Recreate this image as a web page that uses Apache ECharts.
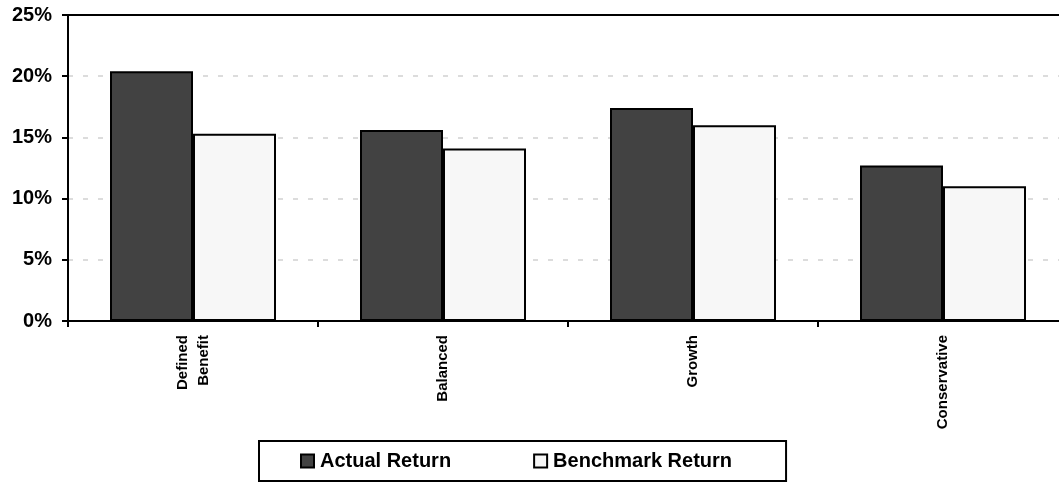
<!DOCTYPE html>
<html>
<head>
<meta charset="utf-8">
<script src="https://cdn.jsdelivr.net/npm/echarts@6/dist/echarts.min.js"></script>
<style>
  html, body { margin: 0; padding: 0; background: #fff; overflow: hidden; }
  /* the plot runs slightly past the right edge of the view */
  #chart { width: 1068px; height: 482px; }
</style>
</head>
<body>
<div id="chart"></div>
<script>
// Fund returns versus benchmark (%)
const categories = ['Defined\nBenefit', 'Balanced', 'Growth', 'Conservative'];
const actualReturn = [20.4, 15.6, 17.4, 12.7];
const benchmarkReturn = [15.3, 14.1, 16.0, 11.0];
const seriesNames = ['Actual Return', 'Benchmark Return'];

const FONT = '"Liberation Sans", Arial, Helvetica, sans-serif';

const chart = echarts.init(document.getElementById('chart'), null, { renderer: 'canvas' });

chart.setOption({
  animation: false,
  backgroundColor: '#ffffff',
  grid: { left: 68, right: 0, top: 15, bottom: 161, show: false },
  legend: {
    left: 259, top: 441,
    padding: [10, 54, 10, 41],
    borderColor: '#000', borderWidth: 2,
    itemWidth: 13, itemHeight: 13, itemGap: 82,
    icon: 'rect',
    textStyle: { fontFamily: FONT, fontWeight: 'bold', fontSize: 20, color: '#000', padding: [0, 0, 0, 1] },
    data: seriesNames
  },
  xAxis: [
    {
      type: 'category',
      data: categories,
      axisLine: { lineStyle: { color: '#000', width: 2 } },
      axisTick: { show: true, length: 6, lineStyle: { color: '#000', width: 2 } },
      axisLabel: {
        rotate: 90, margin: 14, interval: 0,
        fontFamily: FONT, fontWeight: 'bold', fontSize: 15, lineHeight: 21, color: '#000'
      },
      splitLine: { show: false },
      z: 5
    },
    {
      // top frame line of the plot
      type: 'category',
      position: 'top',
      data: categories,
      axisLine: { show: true, lineStyle: { color: '#000', width: 2 } },
      axisTick: { show: false },
      axisLabel: { show: false },
      splitLine: { show: false },
      z: 5
    }
  ],
  yAxis: {
    type: 'value',
    min: 0, max: 25, interval: 5,
    axisLine: { show: true, lineStyle: { color: '#000', width: 2 } },
    axisTick: { show: true, length: 6, lineStyle: { color: '#000', width: 2 } },
    axisLabel: {
      formatter: '{value}%', margin: 16,
      fontFamily: FONT, fontWeight: 'bold', fontSize: 20, color: '#000'
    },
    splitLine: {
      show: true,
      showMinLine: false, showMaxLine: false,
      lineStyle: { color: '#dcdcdc', width: 2, type: [5, 10] }
    }
  },
  series: [
    {
      name: seriesNames[0], type: 'bar', data: actualReturn,
      barGap: '0%', barCategoryGap: '33.6%',
      itemStyle: { color: '#424242', borderColor: '#000', borderWidth: 2 }
    },
    {
      name: seriesNames[1], type: 'bar', data: benchmarkReturn,
      itemStyle: { color: '#f7f7f7', borderColor: '#000', borderWidth: 2 }
    }
  ]
});
</script>
</body>
</html>
